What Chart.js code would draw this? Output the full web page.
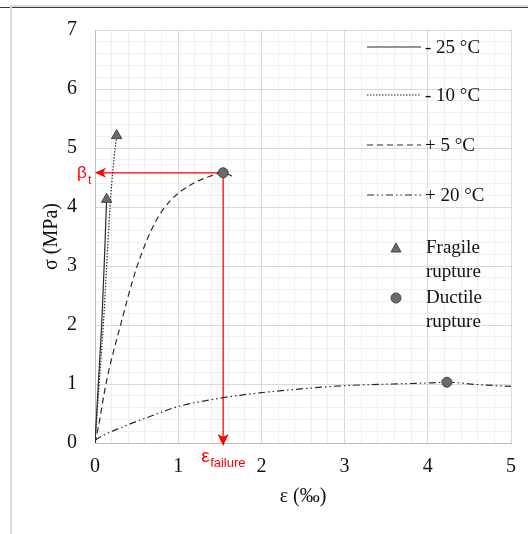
<!DOCTYPE html>
<html>
<head>
<meta charset="utf-8">
<script src="https://cdn.jsdelivr.net/npm/chart.js@4"></script>
<style>
body { margin: 0; background: #fff; }
#wrap { position: relative; width: 528px; height: 534px; }
.frame { position: absolute; }
</style>
</head>
<body>
<div id="wrap">
    <canvas id="chart"></canvas>
    <div class="frame" style="left:10px;top:5px;width:518px;height:2px;background:#dcdcdc"></div>
    <div class="frame" style="left:0;top:7px;width:528px;height:1px;background:#3a3a3a"></div>
    <div class="frame" style="left:10px;top:5px;width:2px;height:529px;background:#d9d9d9"></div>
</div>
<script>
// stress-strain curves, strain in per mille, stress in MPa
const strainM25 = [0, 0.04, 0.08, 0.11, 0.14];
const stressM25 = [0, 1.0, 2.0, 3.0, 4.13];
const strainM10 = [0, 0.05, 0.10, 0.14, 0.18, 0.22, 0.26];
const stressM10 = [0, 1.0, 2.0, 3.0, 4.0, 4.7, 5.21];
const strainP5 = [0, 0.04, 0.14, 0.30, 0.50, 0.72, 0.90, 1.18, 1.38, 1.54, 1.68];
const stressP5 = [0, 0.27, 1.06, 1.96, 2.97, 3.73, 4.10, 4.40, 4.52, 4.58, 4.50];
const strainP20 = [0, 0.10, 0.38, 0.70, 0.98, 1.50, 1.98, 2.50, 2.97, 3.57, 4.05, 4.23, 4.60, 5.00];
const stressP20 = [0.05, 0.13, 0.30, 0.47, 0.61, 0.76, 0.85, 0.92, 0.97, 1.00, 1.02, 1.03, 0.99, 0.96];

// rupture points
const fragileStrain = [0.14, 0.26];
const fragileStress = [4.13, 5.21];
const ductileStrain = [1.54, 4.23];
const ductileStress = [4.58, 1.03];

const seriesLabels = ['- 25 °C', '- 10 °C', '+ 5 °C', '+ 20 °C'];
const markerLabels = [['Fragile', 'rupture'], ['Ductile', 'rupture']];
const xRange = [0, 5];
const yRange = [0, 7];

const lineColor = '#2b2b2b';
const dashes = [[], [1.5, 1.5], [6, 4], [7, 3, 1.5, 3, 1.5, 3]];

function toPoints(xs, ys) {
    return xs.map((v, i) => ({ x: v, y: ys[i] }));
}

const isMajor = v => Math.abs(v - Math.round(v)) < 1e-6;

// red arrows for beta_t and epsilon_failure, plus the legend
const annotate = {
    id: 'annotate',
    beforeDatasetsDraw(chart) {
        const { ctx, scales: { x, y } } = chart;
        const px = x.getPixelForValue(ductileStrain[0]);
        const py = y.getPixelForValue(ductileStress[0]);
        const x0 = x.getPixelForValue(0);
        const y0 = y.getPixelForValue(0) + 3;
        ctx.save();
        ctx.strokeStyle = '#ff0000';
        ctx.fillStyle = '#ff0000';
        ctx.lineWidth = 1.3;
        ctx.beginPath();
        ctx.moveTo(px, py);
        ctx.lineTo(x0 + 8, py);
        ctx.moveTo(px, py);
        ctx.lineTo(px, y0 - 8);
        ctx.stroke();
        // left arrow head
        ctx.beginPath();
        ctx.moveTo(x0, py);
        ctx.lineTo(x0 + 11, py - 5);
        ctx.lineTo(x0 + 8, py);
        ctx.lineTo(x0 + 11, py + 5);
        ctx.closePath();
        ctx.fill();
        // down arrow head
        ctx.beginPath();
        ctx.moveTo(px, y0);
        ctx.lineTo(px - 5.5, y0 - 12);
        ctx.lineTo(px, y0 - 9);
        ctx.lineTo(px + 5.5, y0 - 12);
        ctx.closePath();
        ctx.fill();

        ctx.textAlign = 'left';
        ctx.textBaseline = 'alphabetic';
        ctx.font = '17px "Liberation Sans"';
        ctx.fillText('β', x0 - 18, py + 5);
        ctx.font = '12px "Liberation Sans"';
        ctx.fillText('t', x0 - 7, py + 11);
        ctx.font = '19px "Liberation Sans"';
        ctx.fillText('ε', px - 22, y.getPixelForValue(0) + 19);
        ctx.font = '13px "Liberation Sans"';
        ctx.fillText('failure', px - 13, y.getPixelForValue(0) + 24);
        ctx.restore();
    },
    afterDraw(chart) {
        const ctx = chart.ctx;
        ctx.save();
        ctx.fillStyle = '#111';
        ctx.font = '19px "Liberation Serif"';
        ctx.textBaseline = 'middle';
        const rows = [47, 95, 145, 195];
        seriesLabels.forEach((label, i) => {
            ctx.strokeStyle = lineColor;
            ctx.lineWidth = 1.2;
            ctx.setLineDash(dashes[i]);
            ctx.beginPath();
            ctx.moveTo(367, rows[i]);
            ctx.lineTo(421, rows[i]);
            ctx.stroke();
            ctx.setLineDash([]);
            ctx.fillText(label, 425, rows[i] + 1);
        });

        // triangle
        ctx.fillStyle = '#6b6b6b';
        ctx.strokeStyle = '#444';
        ctx.lineWidth = 1;
        ctx.beginPath();
        ctx.moveTo(396, 243);
        ctx.lineTo(401, 252);
        ctx.lineTo(391, 252);
        ctx.closePath();
        ctx.fill();
        ctx.stroke();
        // circle
        ctx.beginPath();
        ctx.arc(396, 298, 5, 0, Math.PI * 2);
        ctx.fill();
        ctx.stroke();

        ctx.fillStyle = '#111';
        ctx.fillText(markerLabels[0][0], 426, 248);
        ctx.fillText(markerLabels[0][1], 426, 272);
        ctx.fillText(markerLabels[1][0], 426, 298);
        ctx.fillText(markerLabels[1][1], 426, 322);
        ctx.restore();
    }
};

const curveData = [[strainM25, stressM25], [strainM10, stressM10], [strainP5, stressP5], [strainP20, stressP20]];

const datasets = [
    {
        label: 'Fragile rupture',
        data: toPoints(fragileStrain, fragileStress),
        pointStyle: 'triangle',
        pointRadius: 6,
        backgroundColor: '#6b6b6b',
        borderColor: '#444',
        borderWidth: 1,
        showLine: false
    },
    {
        label: 'Ductile rupture',
        data: toPoints(ductileStrain, ductileStress),
        pointStyle: 'circle',
        pointRadius: 5,
        backgroundColor: '#6b6b6b',
        borderColor: '#444',
        borderWidth: 1,
        showLine: false
    }
];
curveData.forEach((c, i) => {
    datasets.push({
        label: seriesLabels[i],
        data: toPoints(c[0], c[1]),
        showLine: true,
        borderColor: lineColor,
        borderWidth: 1.2,
        borderDash: dashes[i],
        pointRadius: 0,
        cubicInterpolationMode: 'monotone',
        fill: false
    });
});

const serif = 'Liberation Serif';

new Chart(document.getElementById('chart'), {
    type: 'scatter',
    data: { datasets: datasets },
    options: {
        responsive: true,
        maintainAspectRatio: false,
        animation: false,
        layout: { padding: { top: 28, right: 16, left: 0, bottom: 0 } },
        plugins: {
            legend: { display: false },
            tooltip: { enabled: false }
        },
        scales: {
            x: {
                type: 'linear',
                min: xRange[0],
                max: xRange[1],
                ticks: {
                    stepSize: 0.2,
                    maxTicksLimit: 100,
                    autoSkip: false,
                    maxRotation: 0,
                    padding: 12,
                    color: '#111',
                    font: { family: serif, size: 20 },
                    callback: v => isMajor(v) ? Math.round(v) : ''
                },
                grid: {
                    drawTicks: false,
                    color: c => c.tick && isMajor(c.tick.value) ? '#d9d9d9' : '#efefef'
                },
                border: { color: '#bfbfbf' },
                title: {
                    display: true,
                    text: 'ε (‰)',
                    color: '#111',
                    font: { family: serif, size: 20 },
                    padding: { top: 0, bottom: 25 }
                },
                afterFit: s => { s.height = 91; }
            },
            y: {
                type: 'linear',
                min: yRange[0],
                max: yRange[1],
                ticks: {
                    stepSize: 0.2,
                    maxTicksLimit: 100,
                    autoSkip: false,
                    padding: 18,
                    color: '#111',
                    font: { family: serif, size: 20 },
                    callback: v => isMajor(v) ? Math.round(v) : ''
                },
                grid: {
                    drawTicks: false,
                    color: c => c.tick && isMajor(c.tick.value) ? '#d9d9d9' : '#efefef'
                },
                border: { color: '#bfbfbf' },
                title: {
                    display: true,
                    text: 'σ (MPa)',
                    color: '#111',
                    font: { family: serif, size: 20 },
                    padding: { top: 40, bottom: 0 }
                },
                afterFit: s => { s.width = 95; }
            }
        }
    },
    plugins: [annotate]
});
</script>
</body>
</html>
